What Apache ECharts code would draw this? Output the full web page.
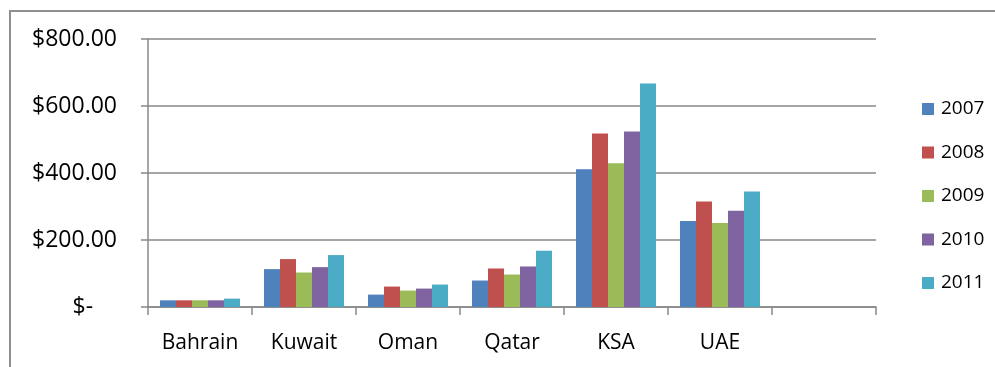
<!DOCTYPE html>
<html>
<head>
<meta charset="utf-8">
<script src="https://cdn.jsdelivr.net/npm/echarts@6/dist/echarts.min.js"></script>
<style>
  html, body { margin: 0; padding: 0; background: #fff; overflow: hidden; }
  #wrap { position: relative; width: 995px; height: 367px; }
  #chart { width: 995px; height: 367px; }
  #frame {
    position: absolute; left: 9px; top: 10px; width: 1100px; height: 500px;
    border-left: 2px solid #8f8f8f; border-top: 2px solid #8f8f8f;
    pointer-events: none;
  }
</style>
</head>
<body>
<div id="wrap">
  <div id="chart"></div>
  <div id="frame"></div>
</div>
<script>
// categories (last slot is empty in the original)
var countries = ['Bahrain', 'Kuwait', 'Oman', 'Qatar', 'KSA', 'UAE', ''];
var years = ['2007', '2008', '2009', '2010', '2011'];

var v2007 = [20, 113, 37, 79, 411, 257, null];
var v2008 = [20, 143, 61, 115, 518, 315, null];
var v2009 = [20, 103, 49, 97, 429, 251, null];
var v2010 = [20, 119, 55, 121, 524, 287, null];
var v2011 = [25, 155, 67, 168, 667, 345, null];

var colors = ['#4F81BD', '#C0504D', '#9BBB59', '#8064A2', '#4BACC6'];
var yearValues = [v2007, v2008, v2009, v2010, v2011];

var myChart = echarts.init(document.getElementById('chart'));
var axisColor = '#888888';

var option = {
  animation: false,
  color: colors,
  textStyle: { fontFamily: 'Open Sans' },
  grid: {
    left: 148,
    right: 119,
    top: 39,
    bottom: 60,
  },
  legend: {
    orient: 'vertical',
    left: 917,
    top: 94,
    itemWidth: 12,
    itemHeight: 12,
    itemGap: 23.5,
    icon: 'rect',
    data: years,
    textStyle: {
      fontFamily: 'Open Sans',
      fontSize: 19,
      color: '#000',
      lineHeight: 20,
      padding: [0, 0, 0, 2],
    },
  },
  xAxis: {
    type: 'category',
    data: countries,
    axisLine: { lineStyle: { color: axisColor, width: 1.5 } },
    axisTick: { show: true, length: 8, lineStyle: { color: axisColor, width: 1.5 } },
    axisLabel: {
      fontFamily: 'Open Sans',
      fontSize: 21,
      color: '#000',
      margin: 26,
    },
  },
  yAxis: {
    type: 'value',
    min: 0,
    max: 800,
    interval: 200,
    axisLine: { show: true, lineStyle: { color: axisColor, width: 1.5 } },
    axisTick: { show: true, length: 7, lineStyle: { color: axisColor, width: 1.5 } },
    splitLine: { lineStyle: { color: axisColor, width: 1.5 } },
    axisLabel: {
      fontFamily: 'Open Sans',
      fontSize: 23,
      color: '#000',
      margin: 31,
      formatter: function (v) {
        return v === 0 ? '$-    ' : '$' + v.toFixed(2);
      },
    },
  },
  series: years.map(function (y, i) {
    return {
      name: y,
      type: 'bar',
      data: yearValues[i],
      barWidth: 16,
      barGap: '0%',
      itemStyle: { color: colors[i] },
    };
  }),
};

option && myChart.setOption(option);
window.addEventListener('resize', function () {
  myChart.resize();
});
</script>
</body>
</html>
